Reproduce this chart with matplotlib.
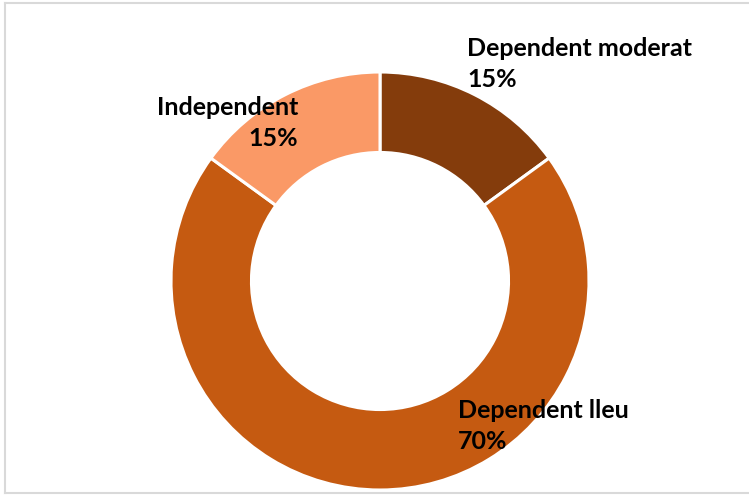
import matplotlib.pyplot as plt
from matplotlib.lines import Line2D

# Dependency levels
labels = ["Dependent moderat", "Dependent lleu", "Independent"]
shares = [15, 70, 15]
colors = ["#843C0C", "#C55A11", "#FA9966"]

W, H = 749, 495
fig = plt.figure(figsize=(W / 100, H / 100), dpi=100)
ax = fig.add_axes([0, 0, 1, 1])

cx, cy, r = 380, H - 281, 209
ax.pie(shares, colors=colors, startangle=90, counterclock=False,
       center=(cx, cy), radius=r, frame=True,
       wedgeprops=dict(width=r * 0.385, edgecolor="white", linewidth=2.2))
ax.set_xlim(0, W)
ax.set_ylim(0, H)
ax.set_aspect("equal")
ax.axis("off")

font = dict(family="Lato", fontweight="bold", fontsize=18, color="black",
            linespacing=1.4)
pct = [f"{v}%" for v in shares]
ax.text(467, H - 37, f"{labels[0]}\n{pct[0]}", ha="left", va="top", **font)
ax.text(458, H - 399, f"{labels[1]}\n{pct[1]}", ha="left", va="top", **font)
ax.text(298, H - 96, f"{labels[2]}\n{pct[2]}", ha="right", va="top", **font)

# light frame around the chart area
frame = dict(transform=None, color="#D9D9D9", lw=1.5)
fig.add_artist(Line2D([5, 749], [H - 3, H - 3], **frame))
fig.add_artist(Line2D([5, 5], [H - 3, H - 493], **frame))
fig.add_artist(Line2D([5, 749], [H - 493, H - 493], **frame))

fig.savefig("out.png", dpi=100, facecolor="white")
